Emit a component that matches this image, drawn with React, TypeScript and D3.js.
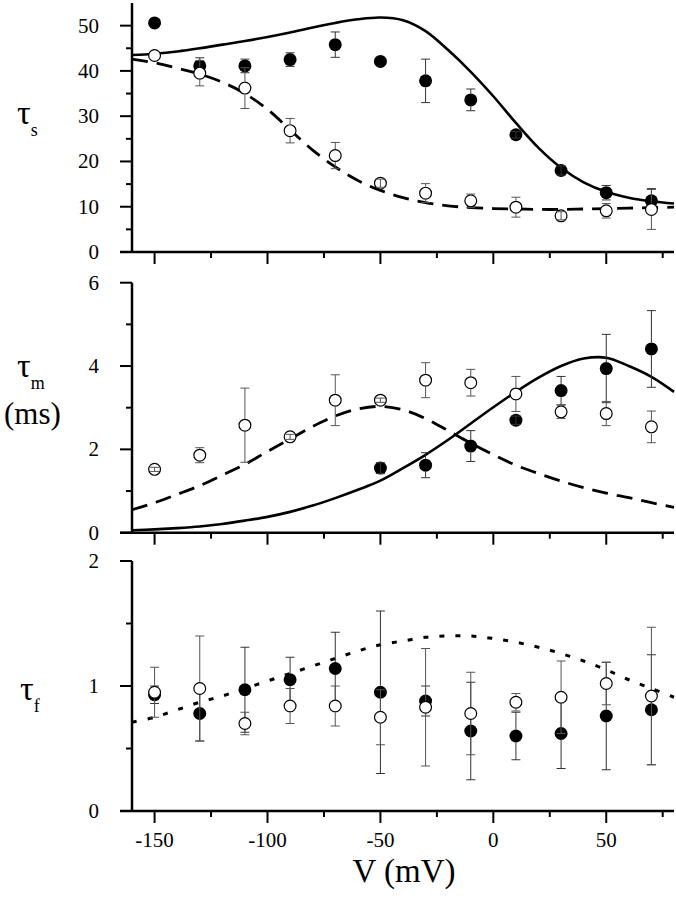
import React, { useEffect, useRef } from 'react';
import * as d3 from 'd3';

// measured voltages (mV)
const voltages = [-150, -130, -110, -90, -70, -50, -30, -10, 10, 30, 50, 70];
const voltagesM = [-50, -30, -10, 10, 30, 50, 70];

// tau_s (top)
const tauSFilled = [50.6, 41.1, 41.1, 42.5, 45.8, 42.1, 37.8, 33.6, 25.9, 18.0, 13.1, 11.3];
const tauSFilledErr = [0, 1.8, 1.5, 1.5, 2.8, 0, 4.8, 2.4, 0.7, 1.0, 1.6, 2.7];
const tauSOpen = [43.4, 39.5, 36.2, 26.8, 21.3, 15.2, 13.0, 11.3, 9.9, 8.0, 9.1, 9.4];
const tauSOpenErr = [0, 2.8, 4.5, 2.7, 2.9, 0.9, 2.1, 1.5, 2.2, 0.9, 1.6, 4.4];

// tau_m (middle)
const tauMFilled = [1.55, 1.62, 2.08, 2.70, 3.41, 3.94, 4.41];
const tauMFilledErr = [0.13, 0.30, 0.37, 0.1, 0.34, 0.82, 0.92];
const tauMOpen = [1.52, 1.86, 2.58, 2.30, 3.18, 3.18, 3.66, 3.60, 3.33, 2.90, 2.86, 2.54];
const tauMOpenErr = [0.05, 0.18, 0.89, 0.06, 0.61, 0.05, 0.42, 0.32, 0.42, 0.16, 0.29, 0.38];

// tau_f (bottom)
const tauFFilled = [0.93, 0.78, 0.97, 1.05, 1.14, 0.95, 0.88, 0.64, 0.60, 0.62, 0.76, 0.81];
const tauFFilledErr = [0.07, 0.22, 0.34, 0.18, 0.29, 0.65, 0.12, 0.39, 0.19, 0.28, 0.43, 0.44];
const tauFOpen = [0.95, 0.98, 0.70, 0.84, 0.84, 0.75, 0.83, 0.78, 0.87, 0.91, 1.02, 0.92];
const tauFOpenErr = [0.20, 0.42, 0.09, 0.14, 0.16, 0.22, 0.47, 0.33, 0.07, 0.29, 0.17, 0.55];

// model curves
const curveV = [-160, -150, -140, -130, -120, -110, -100, -90, -80, -70, -60, -50, -40, -30, -20, -10, 0, 10, 20, 30, 40, 50, 60, 70, 80];
const tauSSolid = [43.5, 43.8, 44.3, 45.0, 45.8, 46.6, 47.5, 48.5, 49.6, 50.6, 51.4, 51.8, 51.2, 48.8, 44.6, 39.8, 34.4, 28.5, 23.0, 18.6, 15.4, 13.3, 12.0, 11.2, 10.7];
const tauSDashed = [42.6, 41.8, 40.6, 39.3, 37.5, 35.0, 31.5, 27.0, 22.5, 18.8, 15.8, 13.6, 12.0, 10.9, 10.2, 9.8, 9.6, 9.5, 9.4, 9.4, 9.5, 9.6, 9.7, 9.8, 9.9];
const tauMSolid = [0.06, 0.08, 0.11, 0.15, 0.21, 0.29, 0.38, 0.50, 0.65, 0.83, 1.03, 1.25, 1.55, 1.87, 2.23, 2.62, 3.01, 3.38, 3.72, 4.00, 4.18, 4.20, 4.00, 3.74, 3.38];
const tauMDashed = [0.55, 0.72, 0.92, 1.13, 1.38, 1.64, 1.95, 2.25, 2.55, 2.80, 2.97, 3.03, 2.95, 2.74, 2.45, 2.15, 1.87, 1.62, 1.42, 1.24, 1.08, 0.95, 0.84, 0.72, 0.61];
const tauFDotted = [0.71, 0.75, 0.81, 0.87, 0.92, 0.98, 1.04, 1.10, 1.16, 1.22, 1.28, 1.33, 1.36, 1.39, 1.40, 1.40, 1.38, 1.35, 1.31, 1.26, 1.20, 1.13, 1.05, 0.98, 0.91];

// ticks
const xTicks = [-150, -100, -50, 0, 50];
const xMinorTicks = [-125, -75, -25, 25, 75];
const tauSTicks = [0, 10, 20, 30, 40, 50];
const tauSMinor = [5, 15, 25, 35, 45];
const tauMTicks = [0, 2, 4, 6];
const tauMMinor = [1, 3, 5];
const tauFTicks = [0, 1, 2];
const tauFMinor = [0.5, 1.5];

const FONT = 'Liberation Serif, Times New Roman, Times, DejaVu Serif, Noto Serif, serif';

export default function App() {
  const svgRef = useRef<SVGSVGElement>(null);

  useEffect(() => {
    if (!svgRef.current) return;
    const svg = d3.select(svgRef.current);
    svg.selectAll('*').remove();

    const x = d3.scaleLinear().domain([-160, 80]).range([132, 674]);

    const panels = [
      {
        y: d3.scaleLinear().domain([0, 55]).range([252, 3]),
        top: 55, ticks: tauSTicks, minor: tauSMinor,
        filledV: voltages, filled: tauSFilled, filledErr: tauSFilledErr,
        openV: voltages, open: tauSOpen, openErr: tauSOpenErr,
        curves: [
          { vals: tauSSolid, dash: null, w: 2.6 },
          { vals: tauSDashed, dash: '16 9', w: 2.8 },
        ],
      },
      {
        y: d3.scaleLinear().domain([0, 6]).range([532.7, 282.7]),
        top: 6, ticks: tauMTicks, minor: tauMMinor,
        filledV: voltagesM, filled: tauMFilled, filledErr: tauMFilledErr,
        openV: voltages, open: tauMOpen, openErr: tauMOpenErr,
        curves: [
          { vals: tauMSolid, dash: null, w: 2.6 },
          { vals: tauMDashed, dash: '16 9', w: 2.8 },
        ],
      },
      {
        y: d3.scaleLinear().domain([0, 2]).range([811, 561]),
        top: 2, ticks: tauFTicks, minor: tauFMinor,
        filledV: voltages, filled: tauFFilled, filledErr: tauFFilledErr,
        openV: voltages, open: tauFOpen, openErr: tauFOpenErr,
        curves: [{ vals: tauFDotted, dash: '5 11', w: 3 }],
      },
    ];

    const R = 6.5;

    panels.forEach(p => {
      const g = svg.append('g');
      const y = p.y;
      const y0 = y(0);

      // curves
      p.curves.forEach(c => {
        const line = d3.line<number>()
          .x((_, i) => x(curveV[i]))
          .y(d => y(d))
          .curve(d3.curveCatmullRom.alpha(0.5));
        g.append('path')
          .attr('d', line(c.vals))
          .attr('fill', 'none')
          .attr('stroke', '#000')
          .attr('stroke-width', c.w)
          .attr('stroke-dasharray', c.dash);
      });

      // markers: filled first, open on top
      const drawPoints = (vs: number[], vals: number[], filled: boolean) => {
        vals.forEach((v, i) => {
          g.append('circle')
            .attr('cx', x(vs[i]))
            .attr('cy', y(v))
            .attr('r', filled ? R : R - 0.6)
            .attr('fill', filled ? '#000' : '#fff')
            .attr('stroke', '#000')
            .attr('stroke-width', filled ? 0 : 1.2);
        });
      };
      const drawErr = (vs: number[], vals: number[], errs: number[], color: string) => {
        vals.forEach((v, i) => {
          const e = errs[i];
          if (!e) return;
          const cx = x(vs[i]);
          const cy = y(v);
          const ep = y0 - y(e);
          const segs: [number, number][] = ep > R
            ? [[cy - ep, cy - R], [cy + R, cy + ep]]
            : [[cy - ep, cy + ep]];
          segs.forEach(([a, b]) => {
            g.append('line').attr('x1', cx).attr('x2', cx).attr('y1', a).attr('y2', b)
              .attr('stroke', color).attr('stroke-width', 1);
          });
          [cy - ep, cy + ep].forEach(yy => {
            g.append('line').attr('x1', cx - 4.5).attr('x2', cx + 4.5).attr('y1', yy).attr('y2', yy)
              .attr('stroke', color).attr('stroke-width', 1);
          });
        });
      };
      drawPoints(p.filledV, p.filled, true);
      drawErr(p.filledV, p.filled, p.filledErr, '#333');
      drawPoints(p.openV, p.open, false);
      drawErr(p.openV, p.open, p.openErr, '#555');

      // axes
      g.append('line').attr('x1', 132).attr('x2', 132).attr('y1', y(p.top)).attr('y2', y0 + 1)
        .attr('stroke', '#000').attr('stroke-width', 2.5);
      g.append('line').attr('x1', 120).attr('x2', 674).attr('y1', y0).attr('y2', y0)
        .attr('stroke', '#000').attr('stroke-width', 2.5);

      p.ticks.forEach(t => {
        g.append('line').attr('x1', 120).attr('x2', 132).attr('y1', y(t)).attr('y2', y(t))
          .attr('stroke', '#000').attr('stroke-width', 2);
        g.append('text')
          .attr('x', 99).attr('y', y(t) + 7)
          .attr('text-anchor', 'end')
          .attr('font-size', 21)
          .text(String(t));
      });
      p.minor.forEach(t => {
        g.append('line').attr('x1', 126).attr('x2', 132).attr('y1', y(t)).attr('y2', y(t))
          .attr('stroke', '#000').attr('stroke-width', 2);
      });
      xTicks.forEach(t => {
        g.append('line').attr('x1', x(t)).attr('x2', x(t)).attr('y1', y0).attr('y2', y0 + 12)
          .attr('stroke', '#000').attr('stroke-width', 2);
      });
      xMinorTicks.forEach(t => {
        g.append('line').attr('x1', x(t)).attr('x2', x(t)).attr('y1', y0).attr('y2', y0 + 6)
          .attr('stroke', '#000').attr('stroke-width', 2);
      });
    });

    // x tick labels on bottom panel
    xTicks.forEach(t => {
      svg.append('text')
        .attr('x', x(t)).attr('y', 847)
        .attr('text-anchor', 'middle')
        .attr('font-size', 21)
        .text(String(t));
    });

    svg.append('text')
      .attr('x', 404).attr('y', 882)
      .attr('text-anchor', 'middle')
      .attr('font-size', 33)
      .text('V (mV)');

    // y labels
    const tauLabel = (xx: number, yy: number, sub: string) => {
      const t = svg.append('text').attr('x', xx).attr('y', yy)
        .attr('font-size', 34);
      t.append('tspan').text('τ');
      t.append('tspan').attr('dy', 12).attr('font-size', 18).text(sub);
    };
    tauLabel(17, 124, 's');
    tauLabel(17, 377, 'm');
    svg.append('text').attr('x', 4).attr('y', 424)
      .attr('font-size', 31).text('(ms)');
    tauLabel(20, 700, 'f');
  }, []);

  return (
    <div style={{ position: 'absolute', left: 0, top: 0, background: '#fff' }}>
      <svg ref={svgRef} width={676} height={900} style={{ display: 'block', fontFamily: FONT }} />
    </div>
  );
}
